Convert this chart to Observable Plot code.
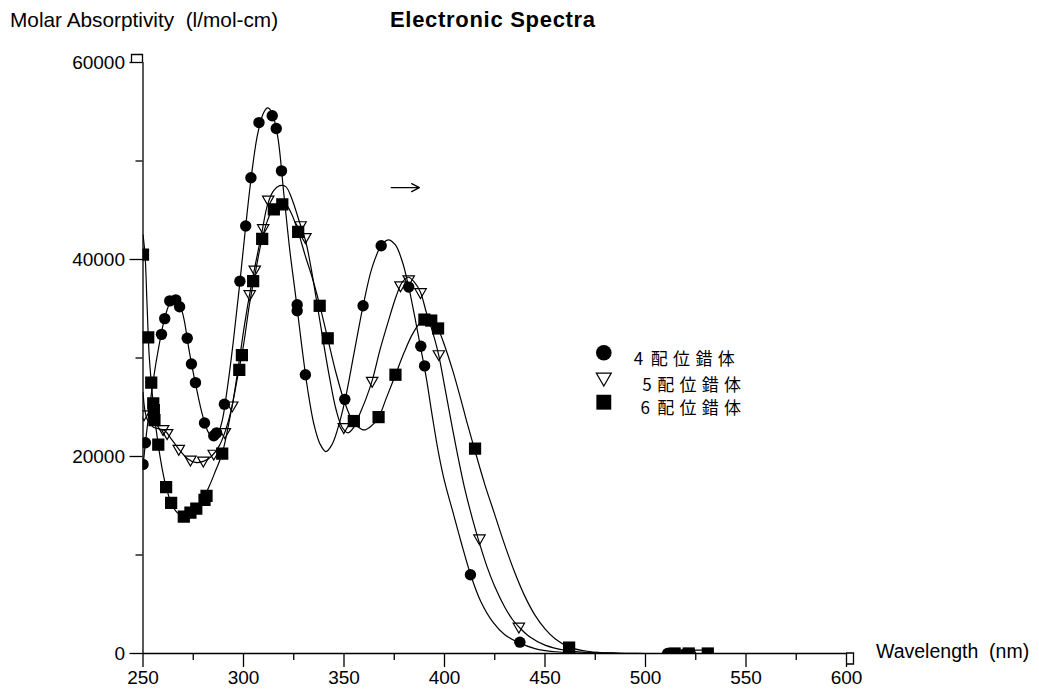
<!DOCTYPE html>
<html>
<head>
<meta charset="utf-8">
<script src="https://cdn.jsdelivr.net/npm/d3@7"></script>
<script src="https://cdn.jsdelivr.net/npm/@observablehq/plot@0.6"></script>
<style>
  html, body { margin: 0; padding: 0; background: #fff; }
  #wrap { position: relative; width: 1039px; height: 690px; color: #000; font-family: "Liberation Sans", Arial, sans-serif; }
  .lbl { position: absolute; white-space: pre; line-height: 21px; }
  #ylab { left: 10px; top: 9px; font-size: 20.8px; }
  #title { left: 390px; top: 9px; font-size: 22px; font-weight: bold; letter-spacing: 0.7px; }
  #xlab { left: 876px; top: 641px; font-size: 19.5px; }
</style>
</head>
<body>
<div id="wrap">
  <div class="lbl" id="ylab">Molar Absorptivity  (l/mol-cm)</div>
  <div class="lbl" id="title">Electronic Spectra</div>
  <div class="lbl" id="xlab">Wavelength  (nm)</div>
</div>
<script>
// ---- tick values ----
const nmTicks = [250, 300, 350, 400, 450, 500, 550, 600];
const nmMinorTicks = [275, 325, 375, 425, 475, 525, 575];
const absTicks = [0, 20000, 40000, 60000];
const absMinorTicks = [10000, 30000, 50000];

// ---- legend labels ----
const legendLabels = ["4 配位錯体", "5 配位錯体", "6 配位錯体"];

// ---- measured points [wavelength nm, molar absorptivity] ----
const points4 = [
  [250, 19200], [251.2, 21400], [259.2, 32400], [260.8, 34000], [263.3, 35800], [266.3, 35900],
  [268.2, 35200], [272.0, 32000], [274.1, 29400], [276.1, 27500], [280.6, 23400], [285.2, 22100],
  [286.6, 22400], [290.5, 25300], [298.2, 37800], [301.1, 43400], [303.7, 48300], [307.7, 53900],
  [314.3, 54600], [316.3, 53300], [318.9, 49000], [326.7, 35400], [326.7, 34800], [330.8, 28300],
  [350.4, 25800], [359.5, 35300], [368.5, 41400], [382.2, 37200], [388.2, 31200], [390.1, 29200],
  [412.9, 8000], [437.5, 1150], [511, 0], [520, 0]
];
const points5 = [
  [250.5, 24300], [260.0, 22800], [262.0, 22400], [267.8, 20800], [273.6, 19700], [280.0, 19600],
  [285.2, 20300], [290.7, 22500], [294.4, 25200], [303.1, 36500], [305.6, 39000], [309.8, 43200],
  [312.3, 46100], [328.4, 43500], [330.8, 42300], [349.9, 23000], [364.0, 27700], [378.1, 37400],
  [382.2, 38000], [388.1, 36700], [397.2, 30400], [417.4, 11700], [437.0, 2740], [517, 0], [527, 0]
];
const points6 = [
  [250.0, 40500], [252.6, 32100], [254.1, 27500], [255.1, 25400], [255.4, 24700], [255.7, 23700],
  [257.6, 21200], [261.5, 16900], [264.0, 15300], [270.3, 13900], [273.6, 14300], [276.5, 14700],
  [280.6, 15600], [281.6, 16000], [289.4, 20300], [297.9, 28800], [299.2, 30300], [304.8, 37800],
  [309.3, 42100], [315.1, 45100], [319.3, 45600], [327.2, 42800], [337.9, 35300], [341.9, 32000],
  [354.9, 23600], [367.2, 24000], [375.6, 28300], [390.0, 33900], [393.4, 33800], [396.8, 33000],
  [415.2, 20800], [462, 600], [514.5, 0], [521.5, 0], [531, 0]
];

// ---- fitted curves [wavelength nm, molar absorptivity] ----
const fit4 = [
  [250, 19000], [252, 22800], [255, 27600], [258, 31300], [261, 34200], [264, 35800], [267, 36100],
  [270, 34300], [273, 30700], [276, 27500], [280, 23900], [283, 22300], [286, 21900], [289, 23300],
  [292, 27000], [295, 31800], [298, 37300], [301, 43200], [304, 48600], [307, 52700], [310, 54900],
  [312, 55400], [314, 55000], [317, 52500], [320, 46800], [323, 41000], [326, 36200], [329, 31200],
  [332, 26700], [335, 23300], [338, 21300], [341, 20500], [344, 21200], [347, 22900], [350.5, 25700],
  [355, 30500], [359.5, 35300], [364, 39200], [368.5, 41400], [372, 42000], [375.5, 41500],
  [379, 39800], [382, 37400], [385, 34400], [388, 31200], [391, 27900], [394, 24000], [397, 20400],
  [400, 17500], [404, 14500], [408, 11500], [413, 8000], [418, 5300], [424, 3200], [430, 1900],
  [437, 1100], [445, 500], [455, 180], [470, 40], [490, 0], [600, 0]
];
const fit5 = [
  [250, 26500], [252, 23800], [255, 23000], [258, 22800], [261, 22600], [264, 21800], [268, 20700],
  [272, 19800], [276, 19400], [280, 19500], [284, 20000], [288, 21100], [291, 22600], [294, 24800],
  [297, 28500], [300, 32700], [303, 36400], [306, 39600], [309, 42600], [312, 45600], [315, 47000],
  [318, 47500], [321, 47400], [324, 46200], [328, 43700], [331, 41800], [334, 38700], [337, 35000],
  [340, 31300], [343, 27800], [346, 24800], [349, 23000], [352, 22400], [355, 23000], [358, 24400],
  [361, 25900], [364, 27700], [368, 30900], [372, 33700], [376, 36300], [379, 37700], [382, 38200],
  [385, 37700], [388, 36700], [391, 34600], [394, 32700], [397, 30400], [400, 27200], [403, 23900],
  [406, 20700], [410, 16800], [414, 13600], [417.4, 11200], [421, 8900], [425, 6800], [430, 4700],
  [434, 3400], [437, 2700], [442, 1750], [450, 850], [460, 330], [470, 120], [485, 25], [500, 0], [600, 0]
];
const fit6 = [
  [250, 42500], [251, 40500], [252, 35500], [253, 30500], [254, 27800], [255.5, 24500], [257.5, 21300],
  [259.5, 18800], [261.5, 16900], [264, 15300], [267, 14300], [270.5, 13900], [274, 14100], [277, 14800],
  [280, 15700], [283, 17000], [286, 18500], [289.4, 20300], [293, 23700], [297, 28000], [300, 31300],
  [303, 35500], [306, 38800], [309, 41900], [312, 44000], [315, 45300], [318, 45800], [321, 45600],
  [324, 44600], [327.2, 42800], [331, 40200], [334, 38300], [338, 35300], [342, 31900], [346, 28500],
  [350, 25700], [354, 23700], [357, 23000], [360, 22700], [363, 23000], [367, 23900], [371, 25900],
  [375.6, 28300], [380, 30600], [384, 32400], [388, 33600], [391, 34000], [394, 33900], [397, 32900],
  [400, 31300], [404, 28800], [408, 25900], [411, 23600], [415, 20700], [420, 17200], [425, 14100],
  [430, 11000], [435, 8200], [440, 5800], [445, 3900], [450, 2500], [455, 1500], [462, 650],
  [472, 200], [485, 40], [500, 0], [600, 0]
];

// ---- annotation arrow ----
const arrowNote = [{nm1: 373.5, nm2: 387.5, value: 47300}];

// downward-pointing triangle symbol
const triDown = {
  draw(ctx, size) {
    const a = Math.sqrt(size / Math.PI);
    ctx.moveTo(-a, -0.577 * a);
    ctx.lineTo(a, -0.577 * a);
    ctx.lineTo(0, 1.155 * a);
    ctx.closePath();
  }
};

const X = d => d[0], Y = d => d[1];
const lineOpts = {x: X, y: Y, curve: "catmull-rom", stroke: "black", strokeWidth: 1.2, clip: true};
const cjk = "'Noto Sans CJK JP', sans-serif";

const plot = Plot.plot({
  width: 1039,
  height: 690,
  marginLeft: 142.5,
  marginRight: 193,
  marginTop: 62,
  marginBottom: 37,
  x: {domain: [250, 600], label: null},
  y: {domain: [0, 60000], label: null},
  style: {fontFamily: "'Liberation Sans', Arial, sans-serif", fontSize: "19px", color: "black", background: "white", overflow: "visible"},
  marks: [
    Plot.axisX(nmTicks, {tickSize: 14, tickPadding: 3, fontSize: 19, label: null, tickFormat: d => String(d), stroke: "black", strokeWidth: 1.3}),
    Plot.axisX(nmMinorTicks, {tickSize: 7, tickFormat: () => "", label: null, stroke: "black", strokeWidth: 1.3}),
    Plot.axisY(absTicks, {tickSize: 13, tickPadding: 5, fontSize: 19, label: null, tickFormat: d => String(d), stroke: "black", strokeWidth: 1.3}),
    Plot.axisY(absMinorTicks, {tickSize: 7, tickFormat: () => "", label: null, stroke: "black", strokeWidth: 1.3}),
    Plot.ruleX([250], {strokeWidth: 1.3}),
    Plot.ruleY([0], {strokeWidth: 1.3}),
    Plot.line(fit4, lineOpts),
    Plot.line(fit5, lineOpts),
    Plot.line(fit6, lineOpts),
    Plot.dot(points4, {x: X, y: Y, r: 5.7, fill: "black", stroke: "none", clip: true}),
    Plot.dot(points5, {x: X, y: Y, r: 5.7, symbol: triDown, fill: "none", stroke: "black", strokeWidth: 1.2, clip: true}),
    Plot.dot(points6, {x: X, y: Y, r: 6.9, symbol: "square", fill: "black", stroke: "none", clip: true}),
    Plot.arrow(arrowNote, {x1: "nm1", x2: "nm2", y1: "value", y2: "value", stroke: "black", strokeWidth: 1.3, headLength: 10, headAngle: 55}),
    // legend
    Plot.dot([legendLabels[0]], {frameAnchor: "top-left", dx: 460.8, dy: 290.3, r: 7.8, fill: "black", stroke: "none"}),
    Plot.dot([legendLabels[1]], {frameAnchor: "top-left", dx: 460.8, dy: 315, r: 7.5, symbol: triDown, fill: "none", stroke: "black", strokeWidth: 1.2}),
    Plot.dot([legendLabels[2]], {frameAnchor: "top-left", dx: 460.8, dy: 339.7, r: 8.4, symbol: "square", fill: "black", stroke: "none"}),
    Plot.text([legendLabels[0]], {frameAnchor: "top-left", dx: 490.8, dy: 290.3, text: d => d, textAnchor: "start", fontSize: 17, fontFamily: cjk}),
    Plot.text([legendLabels[1]], {frameAnchor: "top-left", dx: 499.2, dy: 316.3, text: d => d, textAnchor: "start", fontSize: 17, fontFamily: cjk}),
    Plot.text([legendLabels[2]], {frameAnchor: "top-left", dx: 497.5, dy: 339.7, text: d => d, textAnchor: "start", fontSize: 17, fontFamily: cjk})
  ]
});

plot.style.position = "absolute";
plot.style.left = "0";
plot.style.top = "0";
const wrap = document.getElementById("wrap");
wrap.insertBefore(plot, wrap.firstChild);

// split each legend label into number + spaced CJK part (text content unchanged)
const cjkOffsets = [17, 15, 16.7];
d3.select(plot).selectAll("text")
  .filter(function() { return this.textContent.includes("配位"); })
  .each(function() {
    const full = this.textContent;
    const i = legendLabels.indexOf(full);
    const sp = full.indexOf(" ");
    const t = d3.select(this);
    t.text(null);
    t.append("tspan").text(full.slice(0, sp + 1));
    t.append("tspan").attr("x", cjkOffsets[i] ?? 16).attr("letter-spacing", "5.3px").text(full.slice(sp + 1));
  });

// small bracket hooks at the axis ends
const sx = plot.scale("x"), sy = plot.scale("y");
const x0 = sx.apply(250), xEnd = sx.apply(600), y0 = sy.apply(0), yTop = sy.apply(60000);
d3.select(plot).append("path")
  .attr("d", `M${x0},${yTop} V${yTop - 7.5} H${x0 - 11} V${yTop}`)
  .attr("fill", "none").attr("stroke", "black").attr("stroke-width", 1.3);
d3.select(plot).append("path")
  .attr("d", `M${xEnd},${y0} H${xEnd + 7.5} V${y0 + 11} H${xEnd}`)
  .attr("fill", "none").attr("stroke", "black").attr("stroke-width", 1.3);
</script>
</body>
</html>
